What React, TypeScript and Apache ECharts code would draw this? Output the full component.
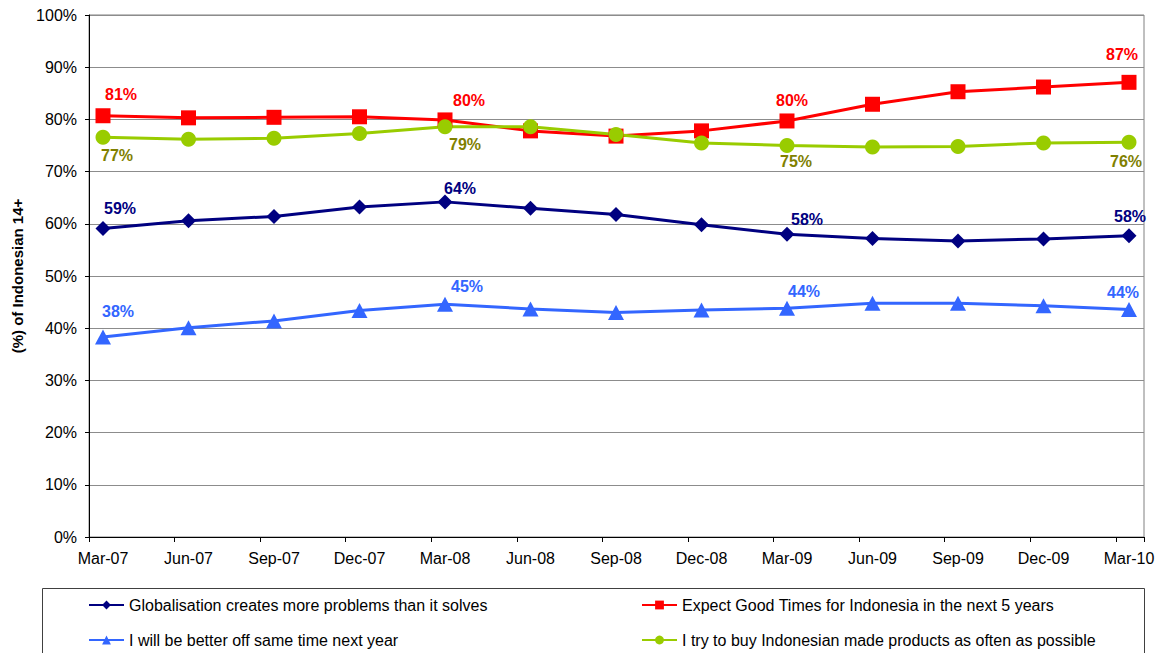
import React, { useEffect, useRef } from "react";
import * as echarts from "echarts";

const categories = [
  "Mar-07", "Jun-07", "Sep-07", "Dec-07", "Mar-08", "Jun-08", "Sep-08",
  "Dec-08", "Mar-09", "Jun-09", "Sep-09", "Dec-09", "Mar-10",
];

const globalisation = [59.1, 60.6, 61.4, 63.2, 64.2, 63.0, 61.8, 59.8, 58.0, 57.2, 56.7, 57.1, 57.7];
const goodTimes = [80.7, 80.3, 80.4, 80.5, 79.9, 77.8, 76.8, 77.8, 79.7, 82.9, 85.3, 86.2, 87.1];
const betterOff = [38.3, 40.1, 41.4, 43.4, 44.6, 43.7, 43.0, 43.5, 43.8, 44.8, 44.8, 44.3, 43.6];
const buyLocal = [76.6, 76.2, 76.4, 77.3, 78.6, 78.6, 77.1, 75.5, 75.0, 74.7, 74.8, 75.5, 75.6];

const seriesNames = [
  "Globalisation creates more problems than it solves",
  "Expect Good Times for Indonesia in the next 5 years",
  "I will be better off same time next year",
  "I try to buy Indonesian made products as often as possible",
];

const labelledIndices = [0, 4, 8, 12];

// label offsets (px) relative to the marker, per labelled point
const navyOffsets = [[17, -20], [15, -13], [20, -15], [1, -19]];
const redOffsets = [[18, -21], [24, -19], [5, -20], [-7, -28]];
const blueOffsets = [[15, -26], [22, -18], [17, -17], [-6, -17]];
const greenOffsets = [[14, 18], [20, 18], [9, 16], [-3, 19]];

const FONT = "'Liberation Sans', Arial, sans-serif";

function buildData(values: number[], offsets: number[][]) {
  return values.map((v, i) => {
    const k = labelledIndices.indexOf(i);
    if (k < 0) return v;
    return { value: v, label: { show: true, offset: offsets[k] } };
  });
}

function makeSeries(
  name: string,
  values: number[],
  offsets: number[][],
  color: string,
  labelColor: string,
  symbol: string,
  symbolSize: number | number[]
) {
  return {
    name,
    type: "line",
    xAxisIndex: 0,
    yAxisIndex: 0,
    data: buildData(values, offsets),
    color,
    symbol,
    symbolSize,
    showAllSymbol: true,
    lineStyle: { color, width: 3 },
    itemStyle: { color },
    label: {
      show: false,
      position: "inside",
      formatter: (p: any) => Math.round(p.value) + "%",
      fontFamily: FONT,
      fontWeight: "bold",
      fontSize: 16,
      color: labelColor,
    },
    emphasis: { disabled: true },
  };
}

function legendItem(name: string, left: number, top: number) {
  return {
    left,
    top,
    orient: "horizontal",
    itemWidth: 35,
    itemHeight: 11,
    data: [name],
    textStyle: { fontSize: 16, color: "#000", fontFamily: FONT },
    selectedMode: false,
    padding: 0,
  };
}

export default function App() {
  const ref = useRef<HTMLDivElement>(null);

  useEffect(() => {
    if (!ref.current) return;
    const chart = echarts.init(ref.current, undefined, { renderer: "svg" });
    const option: any = {
      animation: false,
      backgroundColor: "#ffffff",
      textStyle: { fontFamily: FONT },
      grid: [
        { left: 103, right: 32, top: 15, bottom: 116 },
        {
          left: 89,
          right: 17,
          top: 15,
          bottom: 116,
          show: true,
          borderColor: "#808080",
          borderWidth: 1,
          backgroundColor: "transparent",
        },
      ],
      xAxis: [
        {
          gridIndex: 0,
          type: "category",
          data: categories,
          boundaryGap: false,
          axisLine: { show: false },
          axisTick: { show: false },
          splitLine: { show: false },
          axisLabel: {
            interval: 0,
            fontSize: 16,
            color: "#000",
            margin: 13,
            fontFamily: FONT,
          },
        },
        {
          gridIndex: 1,
          type: "value",
          min: 0,
          max: 12.33,
          interval: 1,
          axisLine: { show: true, lineStyle: { color: "#000", width: 1 } },
          axisTick: { show: true, length: 5, lineStyle: { color: "#000" } },
          axisLabel: { show: false },
          splitLine: { show: false },
        },
      ],
      yAxis: [
        {
          gridIndex: 0,
          type: "value",
          min: 0,
          max: 100,
          show: false,
          splitLine: { show: false },
        },
        {
          gridIndex: 1,
          type: "value",
          min: 0,
          max: 100,
          interval: 10,
          name: "(%) of Indonesian 14+",
          nameLocation: "middle",
          nameGap: 64,
          nameTextStyle: {
            fontFamily: FONT,
            fontWeight: "bold",
            fontSize: 15,
            color: "#000",
          },
          axisLine: { show: true, lineStyle: { color: "#000", width: 1 } },
          axisTick: { show: true, length: 4, lineStyle: { color: "#000" } },
          axisLabel: {
            formatter: "{value}%",
            fontSize: 16,
            color: "#000",
            margin: 12,
            fontFamily: FONT,
          },
          splitLine: { show: true, lineStyle: { color: "#8c8c8c", width: 1 } },
        },
      ],
      legend: [
        legendItem(seriesNames[0], 88, 597),
        legendItem(seriesNames[2], 88, 632),
        legendItem(seriesNames[1], 641, 597),
        legendItem(seriesNames[3], 641, 632),
      ],
      graphic: [
        {
          type: "rect",
          shape: { x: 42.5, y: 588.5, width: 1102, height: 80 },
          style: { fill: "none", stroke: "#404040", lineWidth: 1 },
          silent: true,
        },
      ],
      series: [
        makeSeries(seriesNames[0], globalisation, navyOffsets, "#000080", "#000080", "diamond", 15),
        makeSeries(seriesNames[1], goodTimes, redOffsets, "#FF0000", "#FF0000", "rect", 15),
        makeSeries(seriesNames[2], betterOff, blueOffsets, "#3366FF", "#3366FF", "triangle", [16, 15]),
        makeSeries(seriesNames[3], buyLocal, greenOffsets, "#99CC00", "#808000", "circle", 15),
      ],
    };
    chart.setOption(option);
    return () => chart.dispose();
  }, []);

  return (
    <div
      ref={ref}
      style={{ position: "absolute", left: 0, top: 0, width: 1161, height: 653 }}
    />
  );
}
